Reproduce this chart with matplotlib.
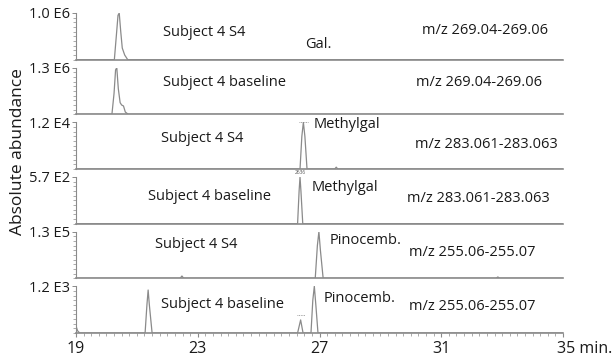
import matplotlib
matplotlib.use("Agg")
import matplotlib.pyplot as plt
import matplotlib.transforms as mtransforms
from matplotlib.ticker import MultipleLocator

plt.rcParams['font.family'] = ['Open Sans', 'DejaVu Sans']

# retention time axis
x_min, x_max = 19, 35
x_ticks = [19, 23, 27, 31, 35]
x_tick_labels = ["19", "23", "27", "31", "35 min."]

# per-panel labels (top to bottom)
scale_labels = ["1.0 E6", "1.3 E6", "1.2 E4", "5.7 E2", "1.3 E5", "1.2 E3"]
sample_labels = ["Subject 4 S4", "Subject 4 baseline", "Subject 4 S4",
                 "Subject 4 baseline", "Subject 4 S4", "Subject 4 baseline"]
compound_labels = ["Gal.", "", "Methylgal", "Methylgal", "Pinocemb.", "Pinocemb."]
mz_labels = ["m/z 269.04-269.06", "m/z 269.04-269.06", "m/z 283.061-283.063",
             "m/z 283.061-283.063", "m/z 255.06-255.07", "m/z 255.06-255.07"]

# traces: (time in min, relative abundance)
trace_t = [
    [19.0, 20.26, 20.33, 20.38, 20.42, 20.47, 20.52, 20.6, 20.7, 35.0],
    [19.0, 20.18, 20.25, 20.3, 20.34, 20.39, 20.45, 20.5, 20.56, 20.62, 20.72, 35.0],
    [19.0, 26.36, 26.42, 26.47, 26.52, 26.59, 27.5, 27.55, 27.6, 35.0],
    [19.0, 26.28, 26.33, 26.36, 26.39, 26.45, 35.0],
    [19.0, 22.42, 22.48, 22.54, 26.86, 26.93, 26.98, 27.03, 27.12, 32.8, 32.86, 32.92, 35.0],
    [19.0, 19.05, 19.12, 21.27, 21.33, 21.37, 21.41, 21.5, 26.28, 26.38, 26.46,
     26.72, 26.78, 26.83, 26.88, 26.95, 35.0],
]
trace_y = [
    [0.0, 0.0, 0.55, 0.95, 1.0, 0.6, 0.25, 0.1, 0.0, 0.0],
    [0.0, 0.0, 0.45, 0.95, 1.0, 0.55, 0.25, 0.2, 0.18, 0.05, 0.0, 0.0],
    [0.0, 0.0, 0.7, 1.0, 0.7, 0.0, 0.0, 0.04, 0.0, 0.0],
    [0.0, 0.0, 0.7, 1.0, 0.7, 0.0, 0.0],
    [0.0, 0.0, 0.05, 0.0, 0.0, 0.7, 1.0, 0.6, 0.0, 0.0, 0.03, 0.0, 0.0],
    [0.15, 0.05, 0.0, 0.0, 0.6, 0.92, 0.6, 0.0, 0.0, 0.28, 0.0,
     0.0, 0.7, 1.0, 0.6, 0.0, 0.0],
]

# text placement in pixels (x left edge, y centre) for each panel
sample_pos = [(163, 33), (163, 82), (161, 138), (148, 197), (155, 245), (161, 305)]
compound_pos = [(305, 45), (0, 0), (314, 125), (312, 187), (330, 240), (324, 298)]
mz_pos = [(422, 31), (416, 83), (415, 145), (407, 198), (409, 252), (409, 307)]

W, H = 614, 361
fig, axes = plt.subplots(6, 1, figsize=(W / 100, H / 100), dpi=100, sharex=True)
fig.subplots_adjust(left=76 / W, right=563 / W, top=1 - 13 / H, bottom=1 - 333 / H,
                    hspace=0.17)

line_color = "#8a8a8a"
axis_color = "#8a8a8a"
text_color = "#1a1a1a"
fs = 10.5

for i, ax in enumerate(axes):
    ax.plot(trace_t[i], trace_y[i], color=line_color, lw=0.9)
    ax.set_xlim(x_min, x_max)
    ax.set_ylim(0, 1.0)
    for side in ["top", "right"]:
        ax.spines[side].set_visible(False)
    ax.spines["left"].set_color(axis_color)
    ax.spines["bottom"].set_color(axis_color)
    ax.spines["left"].set_linewidth(0.8)
    ax.spines["bottom"].set_linewidth(1.2)
    ax.set_yticks([1.0])
    ax.set_yticklabels([scale_labels[i]], fontsize=fs, color=text_color)
    ax.yaxis.set_minor_locator(MultipleLocator(0.1))
    ax.tick_params(axis="y", which="major", length=3, width=0.7, color=axis_color, pad=1)
    ax.tick_params(axis="y", which="minor", length=2, width=0.5, color=axis_color)
    ax.patch.set_alpha(0)

    fig.text(sample_pos[i][0] / W, 1 - sample_pos[i][1] / H, sample_labels[i],
             fontsize=fs, ha="left", va="center", color=text_color)
    if compound_labels[i]:
        fig.text(compound_pos[i][0] / W, 1 - compound_pos[i][1] / H, compound_labels[i],
                 fontsize=fs, ha="left", va="center", color=text_color)
    fig.text(mz_pos[i][0] / W, 1 - mz_pos[i][1] / H, mz_labels[i],
             fontsize=fs, ha="left", va="center", color=text_color)

# small peak annotations seen on the trace
axes[2].plot([26.33, 26.62], [1.0, 1.0], color=line_color, lw=0.6, ls=(0, (1, 1)))
axes[3].text(26.36, 1.05, "2636", fontsize=3.5, ha="center", va="bottom", color="#555555")
axes[5].plot([26.25, 26.52], [0.38, 0.38], color=line_color, lw=0.6, ls=(0, (1, 1)))

for ax in axes[:-1]:
    ax.tick_params(axis="x", which="both", length=0, labelbottom=False)

bottom = axes[-1]
bottom.set_xticks(x_ticks)
bottom.set_xticklabels(x_tick_labels, fontsize=11.5, color=text_color)
bottom.xaxis.set_minor_locator(MultipleLocator(0.25))
bottom.tick_params(axis="x", which="major", length=3, width=0.8, color=axis_color, pad=3)
bottom.tick_params(axis="x", which="minor", length=2, width=0.5, color=axis_color)
shift = mtransforms.ScaledTranslation(-6 / 100, 0, fig.dpi_scale_trans)
for lbl in bottom.get_xticklabels():
    if lbl.get_text().startswith("35"):
        lbl.set_horizontalalignment("left")
        lbl.set_transform(lbl.get_transform() + shift)

fig.text(18 / W, 1 - 152 / H, "Absolute abundance", rotation=90, fontsize=12.5,
         ha="center", va="center", color=text_color)

fig.savefig("out.png", dpi=100)
